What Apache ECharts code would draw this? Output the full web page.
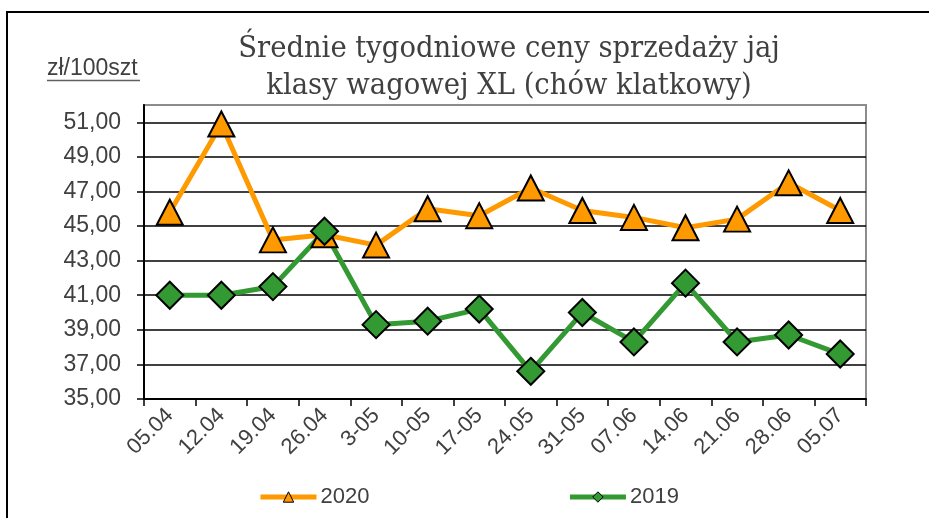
<!DOCTYPE html>
<html><head><meta charset="utf-8">
<script src="https://cdn.jsdelivr.net/npm/echarts@6/dist/echarts.min.js"></script>
<style>html,body{margin:0;padding:0;background:#fff}#c{width:929px;height:518px}</style>
</head><body><div id="c"></div>
<script>
const categories = ['05.04','12.04','19.04','26.04','3-05','10-05','17-05','24.05','31-05','07.06','14.06','21.06','28.06','05.07'];
const values2020 = [45.8,50.9,44.2,44.5,43.9,46.0,45.6,47.2,45.9,45.5,44.9,45.4,47.5,45.9];
const values2019 = [41.0,41.0,41.5,44.7,39.3,39.5,40.2,36.6,40.0,38.3,41.7,38.3,38.7,37.6];
const titleLines = ['Średnie tygodniowe ceny sprzedaży jaj','klasy wagowej XL (chów klatkowy)'];
const unitLabel = 'zł/100szt';

const chart = echarts.init(document.getElementById('c'));
const sans = '"Liberation Sans", Arial, sans-serif';
chart.setOption({
  animation: false,
  backgroundColor: '#fff',
  title: {
    text: titleLines.join('\n'),
    left: 504, top: 26, textAlign: 'center',
    textStyle: { fontFamily: 'DejaVu Serif Condensed, DejaVu Serif, serif', fontWeight: 'normal', fontSize: 30.5, lineHeight: 37, color: '#404040' }
  },
  graphic: [
    { type: 'rect', shape: { x: 7, y: 12, width: 1000, height: 1000 }, style: { fill: 'none', stroke: '#000', lineWidth: 2 }, silent: true },
    { type: 'text', left: 47, top: 57, style: { text: unitLabel, font: '23px ' + sans, fill: '#404040' } },
    { type: 'line', shape: { x1: 47, y1: 80.5, x2: 140, y2: 80.5 }, style: { stroke: '#606060', lineWidth: 1.5 } }
  ],
  legend: {
    left: 253, top: 481, itemWidth: 56, itemHeight: 13, itemGap: 198,
    lineStyle: { width: 5 },
    itemStyle: { borderWidth: 1 },
    textStyle: { fontFamily: sans, fontSize: 22, color: '#404040', padding: [0, 0, 0, -1] },
    data: ['2020','2019']
  },
  grid: { left: 144, right: 63, top: 105, bottom: 119, show: true, borderColor: '#8c8c8c', borderWidth: 2, backgroundColor: '#fff' },
  xAxis: {
    type: 'category', data: categories, boundaryGap: true,
    axisLine: { lineStyle: { color: '#000', width: 2 } },
    axisTick: { show: true, length: 7, lineStyle: { color: '#000', width: 1.5 } },
    axisLabel: { rotate: 45, margin: 13, fontFamily: sans, fontSize: 22, color: '#404040', interval: 0 }
  },
  yAxis: {
    type: 'value', min: 35, max: 52, interval: 2,
    axisLine: { show: true, lineStyle: { color: '#000', width: 2 } },
    axisTick: { show: true, length: 7, lineStyle: { color: '#000', width: 1.5 } },
    axisLabel: { showMaxLabel: false, margin: 23, fontFamily: sans, fontSize: 23, color: '#404040',
      formatter: v => v.toFixed(2).replace('.', ',') },
    splitLine: { show: true, showMaxLine: false, lineStyle: { color: '#000', width: 1.5 } }
  },
  series: [
    { name: '2020', type: 'line', data: values2020, symbol: 'triangle', symbolSize: [26, 25],
      lineStyle: { color: '#FF9900', width: 5 }, itemStyle: { color: '#FF9900', borderColor: '#000', borderWidth: 2 } },
    { name: '2019', type: 'line', data: values2019, symbol: 'diamond', symbolSize: 27,
      lineStyle: { color: '#339933', width: 5 }, itemStyle: { color: '#339933', borderColor: '#000', borderWidth: 2 } }
  ]
});
</script></body></html>
